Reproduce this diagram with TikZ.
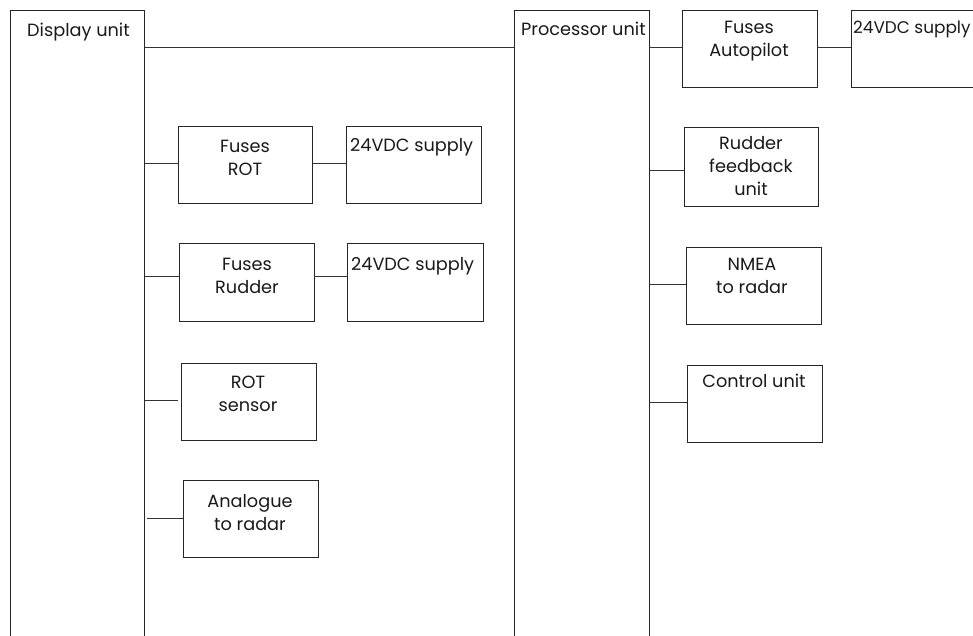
\documentclass[tikz,border=0pt]{standalone}
\usepackage{fontspec}
\setmainfont{Poppins}
\usetikzlibrary{fit}
\begin{document}
\begin{tikzpicture}[x=1pt,y=-1pt,
  box/.style={draw=black!85, line width=0.9pt, inner sep=0pt},
  wire/.style={draw=black!80, line width=0.9pt},
  lbl/.style={inner sep=0pt, align=center, text=black!90, font=\fontsize{17.7}{23}\selectfont},
]
\useasboundingbox (0,0) rectangle (973,636);
\clip (0,0) rectangle (973,636);
% main units
\node[box, fit={(10,10) (144,700)}] (disp) {};
\node[lbl, anchor=base west] (tdisp) at (27,37) {Display unit};
\node[box, fit={(514,10) (649,700)}] (proc) {};
\node[lbl, anchor=base west] (tproc) at (521,36) {Processor unit};
% processor side
\node[box, fit={(682,10) (817,87)}] (fap) {};
\node[lbl, anchor=north] (tfap) at (749,17) {\strut Fuses\\Autopilot};
\node[box, fit={(851,10) (1000,87)}] (sup0) {};
\node[lbl, anchor=base west, font=\fontsize{16.9}{23}\selectfont] (tsup0) at (853,34) {24VDC supply};
\node[box, fit={(684,127) (818,206)}] (rfb) {};
\node[lbl, anchor=north] (trfb) at (751,133) {\strut Rudder\\feedback\\unit};
\node[box, fit={(686,247) (821,324)}] (nmea) {};
\node[lbl, anchor=north] (tnmea) at (752,254) {\strut NMEA\\to radar};
\node[box, fit={(687,365) (822,442)}] (ctrl) {};
\node[lbl, anchor=base] (tctrl) at (754,387) {Control unit};
% display side
\node[box, fit={(178,126) (312,203)}] (frot) {};
\node[lbl, anchor=north] (tfrot) at (245,136) {\strut Fuses\\ROT};
\node[box, fit={(346,126) (481,203)}] (sup1) {};
\node[lbl, anchor=base west] (tsup1) at (350,152) {24VDC supply};
\node[box, fit={(179,243) (314,321)}] (frud) {};
\node[lbl, anchor=north] (tfrud) at (247,254) {\strut Fuses\\Rudder};
\node[box, fit={(347,243) (483,321)}] (sup2) {};
\node[lbl, anchor=base west] (tsup2) at (351,270) {24VDC supply};
\node[box, fit={(181,363) (316,440)}] (rots) {};
\node[lbl, anchor=north] (trots) at (248,372) {\strut ROT\\sensor};
\node[box, fit={(183,480) (318,557)}] (ana) {};
\node[lbl, anchor=north] (tana) at (250,491) {\strut Analogue\\to radar};
% wires
\draw[wire] (disp.east |- 0,47) -- (proc.west |- 0,47);
\draw[wire] (proc.east |- 0,47) -- (fap.west |- 0,47);
\draw[wire] (fap.east |- 0,47) -- (sup0.west |- 0,47);
\draw[wire] (proc.east |- 0,170) -- (rfb.west |- 0,170);
\draw[wire] (proc.east |- 0,284) -- (nmea.west |- 0,284);
\draw[wire] (proc.east |- 0,402) -- (ctrl.west |- 0,402);
\draw[wire] (disp.east |- 0,163) -- (frot.west |- 0,163);
\draw[wire] (frot.east |- 0,163) -- (sup1.west |- 0,163);
\draw[wire] (disp.east |- 0,276) -- (frud.west |- 0,276);
\draw[wire] (frud.east |- 0,276) -- (sup2.west |- 0,276);
\draw[wire, shorten >=3pt] (disp.east |- 0,400) -- (rots.west |- 0,400);
\draw[wire, shorten <=3pt] (disp.east |- 0,518) -- (ana.west |- 0,518);
\end{tikzpicture}
\end{document}
